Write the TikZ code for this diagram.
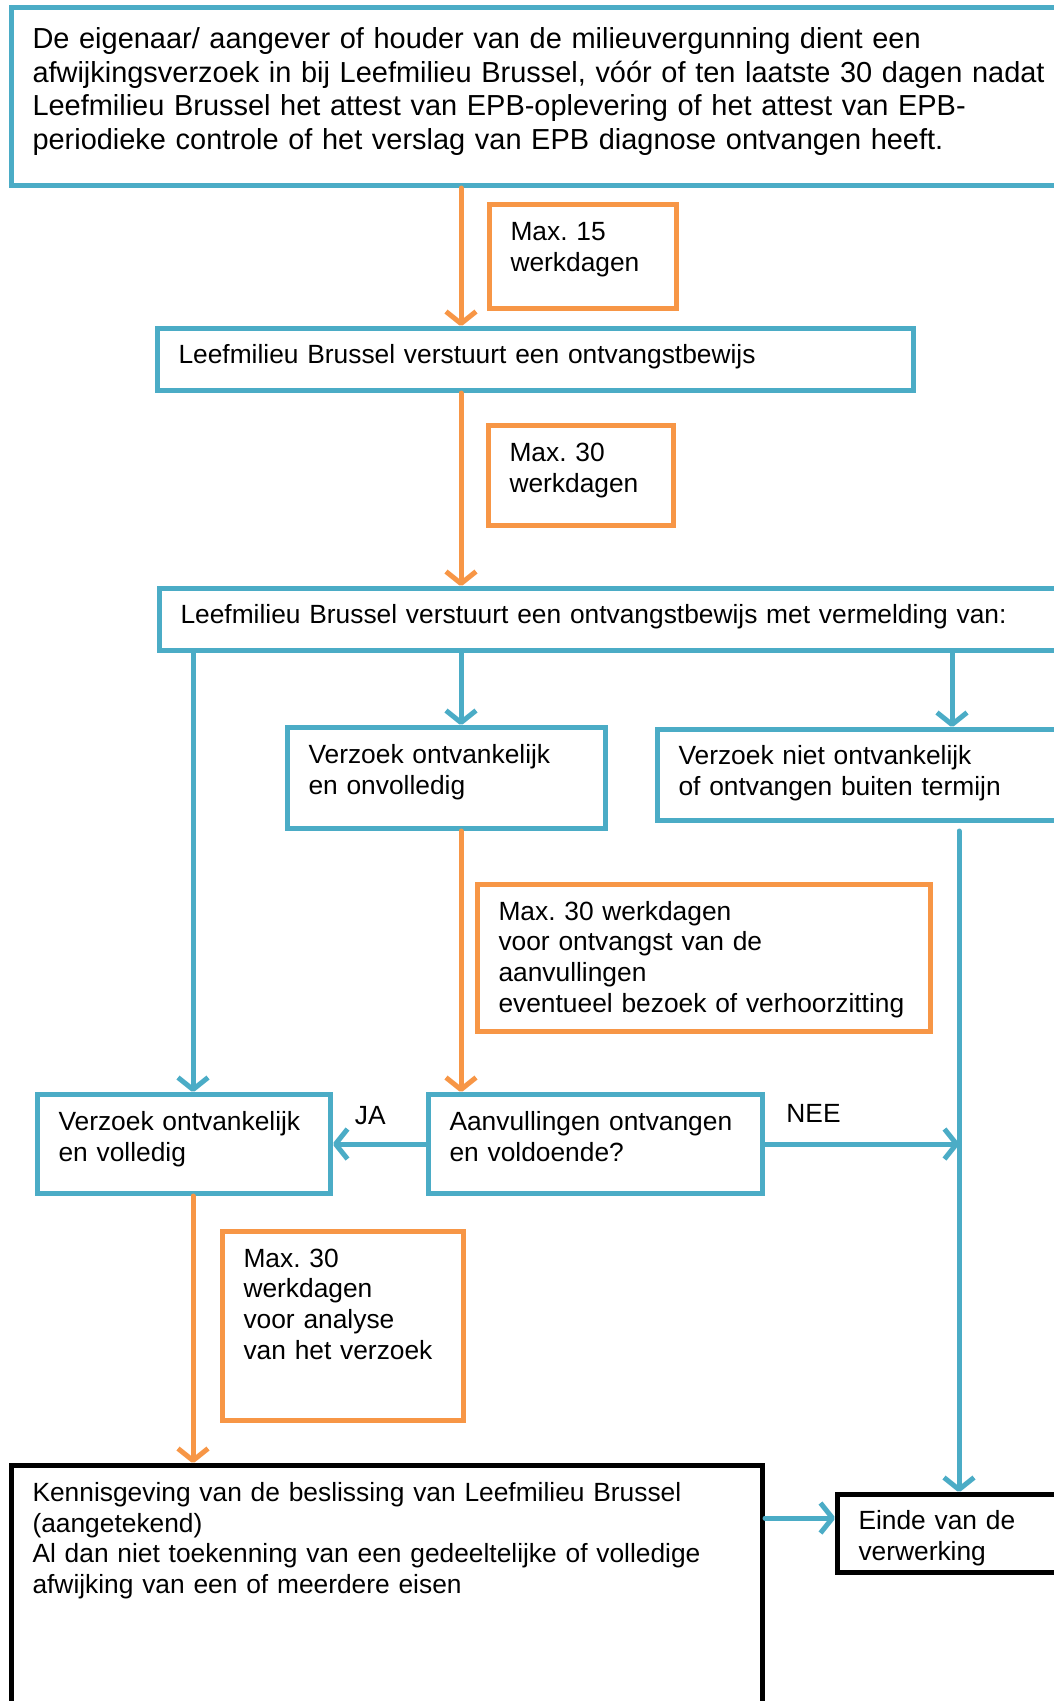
\documentclass[tikz,border=0pt]{standalone}
\usepackage{fontspec}
\setmainfont{Liberation Sans}
\usetikzlibrary{arrows.meta}
\definecolor{aqua}{HTML}{4BACC6}
\definecolor{tangerine}{HTML}{F79646}
\newcommand\boxfont{\fontsize{26.35}{30.7}\selectfont}
\newcommand\headfont{\fontsize{28.95}{33.7}\selectfont}
\frenchspacing

\begin{document}
\begin{tikzpicture}[x=1pt,y=-1pt,
  flow/.style={draw=aqua,line width=5pt,anchor=north west,align=left,
    inner xsep=21pt,inner ysep=0pt,text height=35pt,font=\boxfont},
  timebox/.style={flow,draw=tangerine},
  endbox/.style={flow,draw=black},
  link/.style={draw=aqua,line width=5pt,line cap=round,
    -{Straight Barb[length=12pt,width=30pt,line join=round]}},
  timelink/.style={link,draw=tangerine},
  tag/.style={inner sep=0pt,font=\boxfont}]
\useasboundingbox (0,0) rectangle (1054,1701);
\clip (0,0) rectangle (1054,1701);
\coordinate (spine) at (461,0);
\coordinate (lane) at (193,0);
\coordinate (drop) at (952,0);
\coordinate (rail) at (959,0);

\node[flow,font=\headfont,text width=1040pt,text height=41pt,text depth=137pt] (ask) at (9,5)
  {De eigenaar/ aangever of houder van de milieuvergunning dient een\\
   afwijkingsverzoek in bij Leefmilieu Brussel, vóór of ten laatste 30 dagen nadat\\
   Leefmilieu Brussel het attest van EPB-oplevering of het attest van EPB-\\
   periodieke controle of het verslag van EPB diagnose ontvangen heeft.};
\node[timebox,text width=145pt,text height=36pt,text depth=68pt] (max15) at (487,202)
  {Max. 15\\werkdagen};
\node[flow,text width=714pt,text depth=27pt] (receipt) at (155,326)
  {Leefmilieu Brussel verstuurt een ontvangstbewijs};
\node[timebox,text width=143pt,text height=36pt,text depth=64pt] (max30) at (486,423)
  {Max. 30\\werkdagen};
\node[flow,text width=900pt,text depth=27pt] (notice) at (157,586)
  {Leefmilieu Brussel verstuurt een ontvangstbewijs met vermelding van:};
\node[flow,text width=276pt,text height=36pt,text depth=65pt] (partial) at (285,725)
  {Verzoek ontvankelijk\\en onvolledig};
\node[flow,text width=380pt,text depth=56pt] (refused) at (655,727)
  {Verzoek niet ontvankelijk\\of ontvangen buiten termijn};
\node[timebox,text width=411pt,text height=35.5pt,text depth=111.5pt] (wait) at (475,882)
  {Max. 30 werkdagen\\voor ontvangst van de\\aanvullingen\\eventueel bezoek of verhoorzitting};
\node[flow,text width=251pt,text height=36pt,text depth=63pt] (complete) at (35,1092)
  {Verzoek ontvankelijk\\en volledig};
\node[flow,text width=292pt,text height=36pt,text depth=63pt] (extra) at (426,1092)
  {Aanvullingen ontvangen\\en voldoende?};
\node[timebox,text width=199pt,text height=35.5pt,text depth=153.5pt] (analysis) at (220,1229)
  {Max. 30\\werkdagen\\voor analyse\\van het verzoek};
\node[endbox,text width=709pt,text height=36pt,text depth=300pt] (decision) at (9,1463)
  {Kennisgeving van de beslissing van Leefmilieu Brussel\\(aangetekend)\\
   Al dan niet toekenning van een gedeeltelijke of volledige\\afwijking van een of meerdere eisen};
\node[endbox,text width=250pt,text depth=43pt] (finish) at (835,1492)
  {Einde van de\\verwerking};

\draw[timelink] (ask.south -| spine) -- (receipt.north -| spine);
\draw[timelink] (receipt.south -| spine) -- (notice.north -| spine);
\draw[link] (notice.south -| lane) -- (complete.north -| lane);
\draw[link] (notice.south -| spine) -- (partial.north -| spine);
\draw[link] (notice.south -| drop) -- (refused.north -| drop);
\draw[timelink] (partial.south -| spine) -- (extra.north -| spine);
\draw[link] (extra.west) -- node[tag,above=17pt,pos=0.6] (yes) {JA} (complete.east);
\draw[link] (extra.east) -- node[tag,above=19pt,pos=0.25] (no) {NEE} (extra.east -| rail);
\draw[link,shorten <=8pt] (refused.south -| rail) -- (finish.north -| rail);
\draw[timelink] (complete.south -| lane) -- (decision.north -| lane);
\draw[link] ([yshift=15.5pt]finish.west -| decision.east) -- ([yshift=15.5pt]finish.west);
\end{tikzpicture}
\end{document}
